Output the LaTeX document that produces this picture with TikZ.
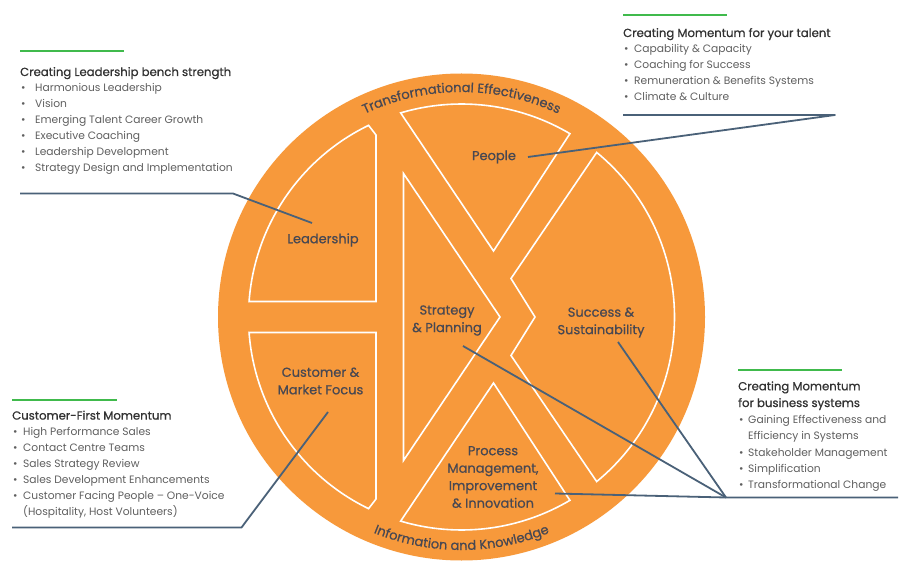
\documentclass[tikz,border=0pt]{standalone}
\usepackage{fontspec}
\setmainfont{Poppins}
\newfontfamily\medfont{Poppins}[FakeBold=0.7]
\usetikzlibrary{calc,decorations.text}
\definecolor{orangeF}{RGB}{247,153,59}
\definecolor{linkblue}{RGB}{74,97,120}
\definecolor{labeltxt}{RGB}{72,72,82}
\definecolor{headtxt}{RGB}{50,50,50}
\definecolor{itemtxt}{RGB}{95,95,95}
\definecolor{greenbar}{RGB}{64,186,76}
\newcommand{\arcfont}{\medfont\fontsize{13}{15}\selectfont}
\begin{document}
\begin{tikzpicture}[x=1pt,y=-1pt,
  seg/.style={draw=white,line width=1.6pt,fill=orangeF,line join=miter},
  lbl/.style={text=labeltxt,font=\medfont\fontsize{13}{17.5}\selectfont,align=center,inner sep=0pt},
  head/.style={text=headtxt,font=\medfont\fontsize{11.7}{13}\selectfont,anchor=base west,inner sep=0pt},
  item/.style={text=itemtxt,font=\fontsize{10.7}{13}\selectfont,anchor=base west,inner sep=0pt},
  link/.style={draw=linkblue,line width=1.8pt,line join=round},
  gbar/.style={draw=greenbar,line width=2pt}]
\useasboundingbox (0,0) rectangle (900,580);
\fill[white] (0,0) rectangle (900,580);
% circle
\coordinate (C) at (461.5,317);
\fill[orangeF] (C) circle[radius=243.5pt];
% segments
\path[seg] ($(C)+(115.87:213pt)$) arc[start angle=115.87,end angle=175.83,radius=213pt] -- (376,301.5) -- (376,135) -- cycle;
\path[seg] ($(C)+(184.17:213pt)$) arc[start angle=184.17,end angle=244.13,radius=213pt] -- (376,499) -- (376,332.5) -- cycle;
\path[seg] (403.5,173.5) -- (500,317) -- (403.5,460.5) -- cycle;
\path[seg] (493.5,251) -- ($(C)+(59.4:213pt)$) arc[start angle=59.4,end angle=106.6,radius=213pt] -- cycle;
\path[seg] (493.5,383) -- ($(C)+(-59.4:213pt)$) arc[start angle=-59.4,end angle=-106.6,radius=213pt] -- cycle;
\path[seg] ($(C)+(50.6:213pt)$) -- (511,278.5) -- (535,317) -- (511,355.5) -- ($(C)+(-50.6:213pt)$) arc[start angle=-50.6,end angle=50.6,radius=213pt] -- cycle;
% curved texts
\path[decorate,decoration={text along path,text align=center,text color=labeltxt,text={|\arcfont|Transformational Effectiveness}}] ($(C)+(132:225pt)$) arc[start angle=132,end angle=48,radius=225pt];
\path[decorate,decoration={text along path,text align=center,text color=labeltxt,text={|\arcfont|Information and Knowledge}}] ($(C)+(228:233pt)$) arc[start angle=228,end angle=312,radius=233pt];
% labels
\node[lbl] (leadership) at (323,240) {Leadership};
\node[lbl] (people) at (494,157) {People};
\node[lbl] (strategy) at (447,320.5) {Strategy\\\& Planning};
\node[lbl] (success) at (601,322.5) {Success \&\\Sustainability};
\node[lbl] (customer) at (320.5,381) {Customer \&\\Market Focus};
\node[lbl] (process) at (493,477) {Process\\Management,\\Improvement\\\& Innovation};
% green bars
\draw[gbar] (20,51) -- (124,51);
\draw[gbar] (623,15.5) -- (727,15.5);
\draw[gbar] (12,400) -- (117,400);
\draw[gbar] (738,370) -- (842,370);
% top-left list
\node[head] (tlh) at (20,76) {Creating Leadership bench strength};
\foreach \t [count=\k] in {Harmonious Leadership, Vision, Emerging Talent Career Growth, Executive Coaching, Leadership Development, Strategy Design and Implementation}{
  \node[item] (tl\k) at (21,{76+16*\k}) {\makebox[14pt][l]{•}\t};
}
% top-right list
\node[head] (trh) at (623,37) {Creating Momentum for your talent};
\foreach \t [count=\k] in {Capability \& Capacity, Coaching for Success, Remuneration \& Benefits Systems, Climate \& Culture}{
  \node[item] (tr\k) at (624,{37+16*\k}) {\makebox[10pt][l]{•}\t};
}
% bottom-left list
\node[head] (blh) at (12,419.6) {Customer-First Momentum};
\foreach \t [count=\k] in {High Performance Sales, Contact Centre Teams, Sales Strategy Review, Sales Development Enhancements, Customer Facing People – One-Voice}{
  \node[item] (bl\k) at (13,{419.6+16*\k}) {\makebox[10pt][l]{•}\t};
}
\node[item] (bl6) at (23,515.6) {(Hospitality, Host Volunteers)};
% bottom-right list
\node[head] (brh1) at (738,390.3) {Creating Momentum};
\node[head] (brh2) at (738,407) {for business systems};
\node[item] (br1) at (739,423.6) {\makebox[9pt][l]{•}Gaining Effectiveness and};
\node[item] (br2) at (748,439.9) {Efficiency in Systems};
\node[item] (br3) at (739,456.2) {\makebox[9pt][l]{•}Stakeholder Management};
\node[item] (br4) at (739,472.5) {\makebox[9pt][l]{•}Simplification};
\node[item] (br5) at (739,488.8) {\makebox[9pt][l]{•}Transformational Change};
% connectors
\coordinate (lead0) at (20,193.5);
\coordinate (lead1) at (233,193.5);
\coordinate (leadE) at (312,223);
\draw[link] (lead0) -- (lead1) -- (leadE);
\coordinate (tal0) at (623,115);
\coordinate (tal1) at (835,115);
\coordinate (talE) at (528,157);
\draw[link] (tal0) -- (tal1) -- (talE);
\coordinate (cus0) at (12,527.5);
\coordinate (cus1) at (241.5,527.5);
\coordinate (cusE) at (328,412);
\draw[link] (cus0) -- (cus1) -- (cusE);
\coordinate (biz0) at (898,497.5);
\coordinate (biz1) at (726,497.5);
\coordinate (stratE) at (463,346);
\coordinate (succE) at (618,342);
\coordinate (procE) at (555,493.5);
\draw[link] (biz0) -- (biz1) -- (stratE);
\draw[link] (biz1) -- (succE);
\draw[link] (biz1) -- (procE);
\end{tikzpicture}
\end{document}
